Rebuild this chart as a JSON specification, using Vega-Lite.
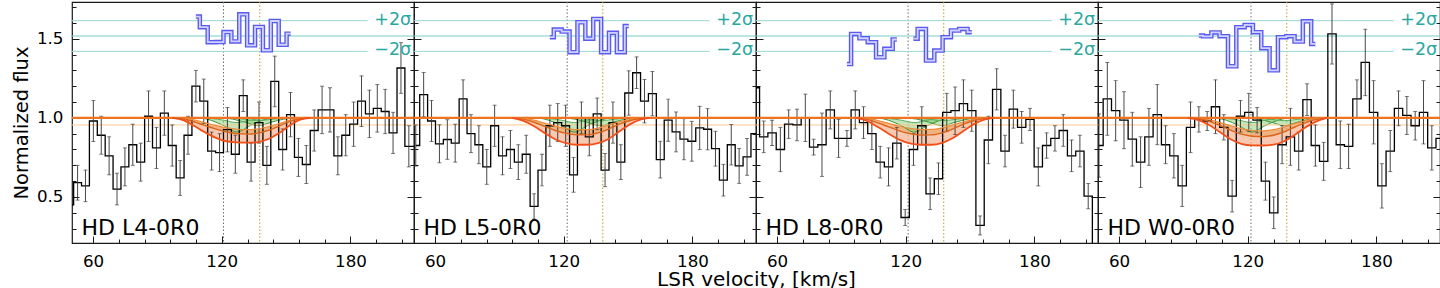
{
"$schema":"https://vega.github.io/schema/vega-lite/v6.json",
"padding":{"left":10,"top":0,"right":0,"bottom":0},
"spacing":0,
"bounds":"flush",
"config":{
 "font":"DejaVu Sans",
 "view":{"stroke":"#1a1a1a","strokeWidth":1.2},
 "axis":{"labelFont":"DejaVu Sans","labelFontSize":16.7,"labelColor":"#000","labelOverlap":false,"tickColor":"#1a1a1a","tickWidth":1,"domain":false,"grid":false,"titleFont":"DejaVu Sans","titleFontWeight":"normal","titleColor":"#000"}
},
"datasets":{
"one":[{}],
"spec":[
{"p":1,"v":49.12,"f":0.45,"e":0.10},{"p":1,"v":52.80,"f":0.59,"e":0.11},{"p":1,"v":56.48,"f":0.57,"e":0.10},{"p":1,"v":60.15,"f":0.98,"e":0.13},{"p":1,"v":63.83,"f":0.89,"e":0.12},{"p":1,"v":67.50,"f":0.76,"e":0.12},{"p":1,"v":71.18,"f":0.55,"e":0.10},{"p":1,"v":74.86,"f":0.69,"e":0.12},{"p":1,"v":78.53,"f":0.83,"e":0.13},{"p":1,"v":82.21,"f":0.72,"e":0.12},{"p":1,"v":85.88,"f":1.01,"e":0.16},{"p":1,"v":89.56,"f":0.81,"e":0.13},{"p":1,"v":93.24,"f":1.03,"e":0.14},{"p":1,"v":96.91,"f":0.825,"e":0.13},{"p":1,"v":100.59,"f":0.62,"e":0.11},{"p":1,"v":104.26,"f":0.89,"e":0.12},{"p":1,"v":107.94,"f":1.20,"e":0.10},{"p":1,"v":111.62,"f":1.105,"e":0.14},{"p":1,"v":115.29,"f":0.79,"e":0.12},{"p":1,"v":118.97,"f":0.78,"e":0.12},{"p":1,"v":122.64,"f":0.925,"e":0.14},{"p":1,"v":126.32,"f":0.77,"e":0.12},{"p":1,"v":130.00,"f":1.14,"e":0.10},{"p":1,"v":133.67,"f":0.72,"e":0.12},{"p":1,"v":137.35,"f":0.97,"e":0.13},{"p":1,"v":141.02,"f":0.70,"e":0.12},{"p":1,"v":144.70,"f":1.23,"e":0.16},{"p":1,"v":148.38,"f":0.80,"e":0.13},{"p":1,"v":152.05,"f":1.02,"e":0.14},{"p":1,"v":155.73,"f":0.75,"e":0.12},{"p":1,"v":159.40,"f":0.705,"e":0.12},{"p":1,"v":163.08,"f":0.92,"e":0.13},{"p":1,"v":166.76,"f":1.05,"e":0.15},{"p":1,"v":170.43,"f":1.05,"e":0.14},{"p":1,"v":174.11,"f":0.76,"e":0.12},{"p":1,"v":177.78,"f":0.89,"e":0.13},{"p":1,"v":181.46,"f":0.96,"e":0.14},{"p":1,"v":185.14,"f":1.105,"e":0.16},{"p":1,"v":188.81,"f":1.025,"e":0.15},{"p":1,"v":192.49,"f":1.06,"e":0.15},{"p":1,"v":196.16,"f":1.04,"e":0.14},{"p":1,"v":199.84,"f":0.905,"e":0.13},{"p":1,"v":203.52,"f":1.315,"e":0.16},{"p":1,"v":207.19,"f":0.82,"e":0.13},{"p":1,"v":210.87,"f":0.82,"e":0.13},
{"p":2,"v":51.02,"f":0.825,"e":0.13},{"p":2,"v":54.70,"f":1.147,"e":0.14},{"p":2,"v":58.38,"f":0.98,"e":0.13},{"p":2,"v":62.05,"f":0.836,"e":0.12},{"p":2,"v":65.73,"f":0.863,"e":0.125},{"p":2,"v":69.40,"f":0.84,"e":0.12},{"p":2,"v":73.08,"f":1.12,"e":0.12},{"p":2,"v":76.76,"f":0.90,"e":0.12},{"p":2,"v":80.43,"f":0.83,"e":0.12},{"p":2,"v":84.11,"f":0.69,"e":0.11},{"p":2,"v":87.78,"f":0.95,"e":0.13},{"p":2,"v":91.46,"f":0.76,"e":0.12},{"p":2,"v":95.14,"f":0.80,"e":0.12},{"p":2,"v":98.81,"f":0.72,"e":0.11},{"p":2,"v":102.49,"f":0.77,"e":0.12},{"p":2,"v":106.16,"f":0.44,"e":0.08},{"p":2,"v":109.84,"f":0.67,"e":0.10},{"p":2,"v":113.52,"f":0.95,"e":0.13},{"p":2,"v":117.19,"f":0.97,"e":0.12},{"p":2,"v":120.87,"f":0.95,"e":0.13},{"p":2,"v":124.54,"f":0.64,"e":0.11},{"p":2,"v":128.22,"f":1.00,"e":0.10},{"p":2,"v":131.90,"f":0.88,"e":0.12},{"p":2,"v":135.57,"f":1.025,"e":0.10},{"p":2,"v":139.25,"f":0.67,"e":0.105},{"p":2,"v":142.92,"f":0.97,"e":0.13},{"p":2,"v":146.60,"f":0.72,"e":0.11},{"p":2,"v":150.28,"f":1.157,"e":0.14},{"p":2,"v":153.95,"f":1.285,"e":0.10},{"p":2,"v":157.63,"f":1.105,"e":0.137},{"p":2,"v":161.30,"f":1.153,"e":0.14},{"p":2,"v":164.98,"f":0.736,"e":0.116},{"p":2,"v":168.66,"f":0.985,"e":0.133},{"p":2,"v":172.33,"f":0.911,"e":0.126},{"p":2,"v":176.01,"f":0.865,"e":0.13},{"p":2,"v":179.68,"f":0.852,"e":0.126},{"p":2,"v":183.36,"f":0.936,"e":0.137},{"p":2,"v":187.04,"f":0.928,"e":0.13},{"p":2,"v":190.71,"f":0.805,"e":0.11},{"p":2,"v":194.39,"f":0.606,"e":0.10},{"p":2,"v":198.06,"f":0.83,"e":0.128},{"p":2,"v":201.74,"f":0.696,"e":0.11},{"p":2,"v":205.42,"f":0.753,"e":0.116},{"p":2,"v":209.09,"f":0.90,"e":0.12},{"p":2,"v":212.77,"f":0.90,"e":0.12},
{"p":3,"v":49.92,"f":1.19,"e":0.12},{"p":3,"v":53.80,"f":0.88,"e":0.10},{"p":3,"v":57.68,"f":0.905,"e":0.08},{"p":3,"v":61.56,"f":0.80,"e":0.14},{"p":3,"v":65.43,"f":0.96,"e":0.09},{"p":3,"v":69.31,"f":0.955,"e":0.10},{"p":3,"v":73.19,"f":1.00,"e":0.15},{"p":3,"v":77.07,"f":0.815,"e":0.05},{"p":3,"v":80.95,"f":0.83,"e":0.20},{"p":3,"v":84.82,"f":1.05,"e":0.12},{"p":3,"v":88.70,"f":0.87,"e":0.12},{"p":3,"v":92.58,"f":0.87,"e":0.05},{"p":3,"v":96.46,"f":1.05,"e":0.12},{"p":3,"v":100.34,"f":0.97,"e":0.10},{"p":3,"v":104.21,"f":0.90,"e":0.10},{"p":3,"v":108.09,"f":0.72,"e":0.10},{"p":3,"v":111.97,"f":0.69,"e":0.12},{"p":3,"v":115.85,"f":0.84,"e":0.10},{"p":3,"v":119.73,"f":0.37,"e":0.05},{"p":3,"v":123.60,"f":0.80,"e":0.10},{"p":3,"v":127.48,"f":0.95,"e":0.12},{"p":3,"v":131.36,"f":0.52,"e":0.10},{"p":3,"v":135.24,"f":0.615,"e":0.10},{"p":3,"v":139.12,"f":1.035,"e":0.12},{"p":3,"v":142.99,"f":1.045,"e":0.15},{"p":3,"v":146.87,"f":1.09,"e":0.15},{"p":3,"v":150.75,"f":1.045,"e":0.13},{"p":3,"v":154.63,"f":0.32,"e":0.06},{"p":3,"v":158.51,"f":0.86,"e":0.15},{"p":3,"v":162.38,"f":1.18,"e":0.13},{"p":3,"v":166.26,"f":0.79,"e":0.10},{"p":3,"v":170.14,"f":1.055,"e":0.12},{"p":3,"v":174.02,"f":0.94,"e":0.10},{"p":3,"v":177.90,"f":0.99,"e":0.07},{"p":3,"v":181.77,"f":0.69,"e":0.12},{"p":3,"v":185.65,"f":0.825,"e":0.08},{"p":3,"v":189.53,"f":0.87,"e":0.08},{"p":3,"v":193.41,"f":0.92,"e":0.10},{"p":3,"v":197.29,"f":0.76,"e":0.10},{"p":3,"v":201.16,"f":0.79,"e":0.10},{"p":3,"v":205.04,"f":0.505,"e":0.08},{"p":3,"v":208.92,"f":0.20,"e":0.10},{"p":3,"v":212.80,"f":0.30,"e":0.10},
{"p":4,"v":50.67,"f":0.825,"e":0.20},{"p":4,"v":54.55,"f":1.12,"e":0.23},{"p":4,"v":58.43,"f":1.045,"e":0.19},{"p":4,"v":62.31,"f":0.985,"e":0.18},{"p":4,"v":66.18,"f":0.865,"e":0.17},{"p":4,"v":70.06,"f":0.72,"e":0.16},{"p":4,"v":73.94,"f":0.88,"e":0.18},{"p":4,"v":77.82,"f":1.02,"e":0.19},{"p":4,"v":81.70,"f":0.83,"e":0.12},{"p":4,"v":85.57,"f":0.76,"e":0.14},{"p":4,"v":89.45,"f":0.57,"e":0.13},{"p":4,"v":93.33,"f":0.94,"e":0.16},{"p":4,"v":97.21,"f":0.99,"e":0.08},{"p":4,"v":101.09,"f":0.98,"e":0.06},{"p":4,"v":104.96,"f":1.07,"e":0.17},{"p":4,"v":108.84,"f":0.94,"e":0.08},{"p":4,"v":112.72,"f":0.505,"e":0.10},{"p":4,"v":116.60,"f":1.01,"e":0.10},{"p":4,"v":120.48,"f":1.035,"e":0.12},{"p":4,"v":124.35,"f":0.985,"e":0.08},{"p":4,"v":128.23,"f":0.60,"e":0.12},{"p":4,"v":132.11,"f":0.40,"e":0.10},{"p":4,"v":135.99,"f":0.83,"e":0.12},{"p":4,"v":139.87,"f":0.88,"e":0.18},{"p":4,"v":143.74,"f":0.79,"e":0.12},{"p":4,"v":147.62,"f":1.115,"e":0.10},{"p":4,"v":151.50,"f":0.825,"e":0.13},{"p":4,"v":155.38,"f":0.725,"e":0.12},{"p":4,"v":159.26,"f":1.53,"e":0.19},{"p":4,"v":163.13,"f":0.83,"e":0.15},{"p":4,"v":167.01,"f":0.82,"e":0.14},{"p":4,"v":170.89,"f":1.12,"e":0.12},{"p":4,"v":174.77,"f":1.35,"e":0.21},{"p":4,"v":178.65,"f":1.035,"e":0.20},{"p":4,"v":182.52,"f":0.57,"e":0.14},{"p":4,"v":186.40,"f":0.79,"e":0.13},{"p":4,"v":190.28,"f":1.06,"e":0.11},{"p":4,"v":194.16,"f":1.015,"e":0.12},{"p":4,"v":198.04,"f":0.95,"e":0.09},{"p":4,"v":201.91,"f":1.035,"e":0.20},{"p":4,"v":205.79,"f":0.81,"e":0.14},{"p":4,"v":209.67,"f":0.87,"e":0.10},{"p":4,"v":213.55,"f":0.87,"e":0.10}
],
"res":[
{"p":1,"s":1,"v":107.94,"r":1.64},{"p":1,"s":1,"v":111.62,"r":1.573},{"p":1,"s":1,"v":115.29,"r":1.478},{"p":1,"s":1,"v":118.97,"r":1.479},{"p":1,"s":1,"v":122.64,"r":1.542},{"p":1,"s":1,"v":126.32,"r":1.483},{"p":1,"s":1,"v":130.00,"r":1.654},{"p":1,"s":1,"v":133.67,"r":1.458},{"p":1,"s":1,"v":137.35,"r":1.574},{"p":1,"s":1,"v":141.02,"r":1.427},{"p":1,"s":1,"v":144.70,"r":1.612},{"p":1,"s":1,"v":148.38,"r":1.462},{"p":1,"s":1,"v":152.05,"r":1.532},
{"p":2,"s":1,"v":113.52,"r":1.51},{"p":2,"s":1,"v":117.19,"r":1.558},{"p":2,"s":1,"v":120.87,"r":1.545},{"p":2,"s":1,"v":124.54,"r":1.415},{"p":2,"s":1,"v":128.22,"r":1.604},{"p":2,"s":1,"v":131.90,"r":1.50},{"p":2,"s":1,"v":135.57,"r":1.625},{"p":2,"s":1,"v":139.25,"r":1.415},{"p":2,"s":1,"v":142.92,"r":1.537},{"p":2,"s":1,"v":146.60,"r":1.415},{"p":2,"s":1,"v":150.28,"r":1.58},
{"p":3,"s":1,"v":92.58,"r":1.34},{"p":3,"s":1,"v":96.46,"r":1.53},{"p":3,"s":1,"v":100.34,"r":1.503},{"p":3,"s":1,"v":104.21,"r":1.478},{"p":3,"s":1,"v":108.09,"r":1.383},{"p":3,"s":1,"v":111.97,"r":1.436},{"p":3,"s":1,"v":115.85,"r":1.495},{"p":3,"s":2,"v":123.60,"r":1.50},{"p":3,"s":2,"v":127.48,"r":1.562},{"p":3,"s":2,"v":131.36,"r":1.362},{"p":3,"s":2,"v":135.24,"r":1.425},{"p":3,"s":2,"v":139.12,"r":1.51},{"p":3,"s":2,"v":142.99,"r":1.552},{"p":3,"s":2,"v":146.87,"r":1.562},{"p":3,"s":2,"v":150.75,"r":1.541},
{"p":4,"s":1,"v":97.21,"r":1.52},{"p":4,"s":1,"v":101.09,"r":1.515},{"p":4,"s":1,"v":104.96,"r":1.54},{"p":4,"s":1,"v":108.84,"r":1.516},{"p":4,"s":1,"v":112.72,"r":1.326},{"p":4,"s":1,"v":116.60,"r":1.573},{"p":4,"s":1,"v":120.48,"r":1.587},{"p":4,"s":1,"v":124.35,"r":1.541},{"p":4,"s":1,"v":128.23,"r":1.44},{"p":4,"s":1,"v":132.11,"r":1.30},{"p":4,"s":1,"v":135.99,"r":1.51},{"p":4,"s":1,"v":139.87,"r":1.516},{"p":4,"s":1,"v":143.74,"r":1.482},{"p":4,"s":1,"v":147.62,"r":1.61},{"p":4,"s":1,"v":151.50,"r":1.467}
],
"model":[
{"p":1,"v":97,"hi":1,"md":1,"lo":1},{"p":1,"v":102,"hi":0.997,"md":0.993,"lo":0.985},{"p":1,"v":107,"hi":0.987,"md":0.975,"lo":0.95},{"p":1,"v":112,"hi":0.97,"md":0.952,"lo":0.91},{"p":1,"v":117,"hi":0.952,"md":0.93,"lo":0.875},{"p":1,"v":122,"hi":0.938,"md":0.912,"lo":0.852},{"p":1,"v":127,"hi":0.928,"md":0.9,"lo":0.845},{"p":1,"v":132,"hi":0.925,"md":0.897,"lo":0.843},{"p":1,"v":137,"hi":0.93,"md":0.903,"lo":0.847},{"p":1,"v":142,"hi":0.945,"md":0.922,"lo":0.868},{"p":1,"v":147,"hi":0.965,"md":0.95,"lo":0.905},{"p":1,"v":152,"hi":0.985,"md":0.978,"lo":0.955},{"p":1,"v":157,"hi":0.997,"md":0.995,"lo":0.99},{"p":1,"v":161,"hi":1,"md":1,"lo":1},
{"p":2,"v":96,"hi":1,"md":1,"lo":1},{"p":2,"v":101,"hi":0.996,"md":0.992,"lo":0.982},{"p":2,"v":106,"hi":0.985,"md":0.972,"lo":0.948},{"p":2,"v":111,"hi":0.967,"md":0.947,"lo":0.905},{"p":2,"v":116,"hi":0.948,"md":0.92,"lo":0.865},{"p":2,"v":121,"hi":0.933,"md":0.902,"lo":0.84},{"p":2,"v":126,"hi":0.925,"md":0.893,"lo":0.83},{"p":2,"v":131,"hi":0.925,"md":0.892,"lo":0.83},{"p":2,"v":136,"hi":0.935,"md":0.905,"lo":0.84},{"p":2,"v":141,"hi":0.955,"md":0.93,"lo":0.868},{"p":2,"v":146,"hi":0.975,"md":0.96,"lo":0.915},{"p":2,"v":151,"hi":0.99,"md":0.983,"lo":0.96},{"p":2,"v":156,"hi":0.998,"md":0.996,"lo":0.99},{"p":2,"v":160,"hi":1,"md":1,"lo":1},
{"p":3,"v":97,"hi":1,"md":1,"lo":1},{"p":3,"v":102,"hi":0.996,"md":0.99,"lo":0.98},{"p":3,"v":107,"hi":0.983,"md":0.968,"lo":0.942},{"p":3,"v":112,"hi":0.965,"md":0.943,"lo":0.9},{"p":3,"v":117,"hi":0.947,"md":0.918,"lo":0.862},{"p":3,"v":122,"hi":0.933,"md":0.9,"lo":0.838},{"p":3,"v":127,"hi":0.926,"md":0.891,"lo":0.83},{"p":3,"v":132,"hi":0.927,"md":0.892,"lo":0.83},{"p":3,"v":137,"hi":0.937,"md":0.905,"lo":0.842},{"p":3,"v":142,"hi":0.955,"md":0.93,"lo":0.872},{"p":3,"v":147,"hi":0.975,"md":0.96,"lo":0.918},{"p":3,"v":152,"hi":0.99,"md":0.983,"lo":0.962},{"p":3,"v":157,"hi":0.998,"md":0.996,"lo":0.99},{"p":3,"v":161,"hi":1,"md":1,"lo":1},
{"p":4,"v":92,"hi":1,"md":1,"lo":1},{"p":4,"v":97,"hi":0.997,"md":0.994,"lo":0.986},{"p":4,"v":102,"hi":0.988,"md":0.978,"lo":0.955},{"p":4,"v":107,"hi":0.97,"md":0.952,"lo":0.91},{"p":4,"v":112,"hi":0.95,"md":0.922,"lo":0.865},{"p":4,"v":117,"hi":0.932,"md":0.897,"lo":0.836},{"p":4,"v":122,"hi":0.92,"md":0.884,"lo":0.826},{"p":4,"v":127,"hi":0.917,"md":0.881,"lo":0.825},{"p":4,"v":132,"hi":0.925,"md":0.89,"lo":0.83},{"p":4,"v":137,"hi":0.942,"md":0.912,"lo":0.852},{"p":4,"v":142,"hi":0.963,"md":0.942,"lo":0.893},{"p":4,"v":147,"hi":0.982,"md":0.97,"lo":0.94},{"p":4,"v":152,"hi":0.995,"md":0.99,"lo":0.978},{"p":4,"v":157,"hi":1,"md":1,"lo":1}
],
"comp":[
{"p":1,"c":"A","v":110,"hi":1,"lo":1},{"p":1,"c":"A","v":115,"hi":0.996,"lo":0.985},{"p":1,"c":"A","v":121,"hi":0.985,"lo":0.95},{"p":1,"c":"A","v":127,"hi":0.97,"lo":0.91},{"p":1,"c":"A","v":133,"hi":0.985,"lo":0.95},{"p":1,"c":"A","v":139,"hi":0.996,"lo":0.985},{"p":1,"c":"A","v":144,"hi":1,"lo":1},
{"p":1,"c":"B","v":120,"hi":1,"lo":1},{"p":1,"c":"B","v":125,"hi":0.998,"lo":0.992},{"p":1,"c":"B","v":131,"hi":0.99,"lo":0.972},{"p":1,"c":"B","v":137,"hi":0.982,"lo":0.95},{"p":1,"c":"B","v":143,"hi":0.99,"lo":0.972},{"p":1,"c":"B","v":149,"hi":0.998,"lo":0.992},{"p":1,"c":"B","v":154,"hi":1,"lo":1},
{"p":2,"c":"A","v":108,"hi":1,"lo":1},{"p":2,"c":"A","v":113,"hi":0.996,"lo":0.985},{"p":2,"c":"A","v":119,"hi":0.985,"lo":0.95},{"p":2,"c":"A","v":125,"hi":0.97,"lo":0.91},{"p":2,"c":"A","v":131,"hi":0.985,"lo":0.95},{"p":2,"c":"A","v":137,"hi":0.996,"lo":0.985},{"p":2,"c":"A","v":142,"hi":1,"lo":1},
{"p":2,"c":"B","v":120,"hi":1,"lo":1},{"p":2,"c":"B","v":125,"hi":0.998,"lo":0.992},{"p":2,"c":"B","v":131,"hi":0.99,"lo":0.972},{"p":2,"c":"B","v":137,"hi":0.982,"lo":0.95},{"p":2,"c":"B","v":143,"hi":0.99,"lo":0.972},{"p":2,"c":"B","v":149,"hi":0.998,"lo":0.992},{"p":2,"c":"B","v":154,"hi":1,"lo":1},
{"p":3,"c":"A","v":107,"hi":1,"lo":1},{"p":3,"c":"A","v":112,"hi":0.996,"lo":0.985},{"p":3,"c":"A","v":118,"hi":0.985,"lo":0.95},{"p":3,"c":"A","v":124,"hi":0.97,"lo":0.91},{"p":3,"c":"A","v":130,"hi":0.985,"lo":0.95},{"p":3,"c":"A","v":136,"hi":0.996,"lo":0.985},{"p":3,"c":"A","v":141,"hi":1,"lo":1},
{"p":3,"c":"B","v":120,"hi":1,"lo":1},{"p":3,"c":"B","v":125,"hi":0.998,"lo":0.992},{"p":3,"c":"B","v":131,"hi":0.99,"lo":0.972},{"p":3,"c":"B","v":137,"hi":0.982,"lo":0.95},{"p":3,"c":"B","v":143,"hi":0.99,"lo":0.972},{"p":3,"c":"B","v":149,"hi":0.998,"lo":0.992},{"p":3,"c":"B","v":154,"hi":1,"lo":1},
{"p":4,"c":"A","v":105,"hi":1,"lo":1},{"p":4,"c":"A","v":110,"hi":0.996,"lo":0.985},{"p":4,"c":"A","v":116,"hi":0.985,"lo":0.95},{"p":4,"c":"A","v":122,"hi":0.97,"lo":0.91},{"p":4,"c":"A","v":128,"hi":0.985,"lo":0.95},{"p":4,"c":"A","v":134,"hi":0.996,"lo":0.985},{"p":4,"c":"A","v":139,"hi":1,"lo":1},
{"p":4,"c":"B","v":120,"hi":1,"lo":1},{"p":4,"c":"B","v":125,"hi":0.998,"lo":0.992},{"p":4,"c":"B","v":131,"hi":0.99,"lo":0.972},{"p":4,"c":"B","v":137,"hi":0.982,"lo":0.95},{"p":4,"c":"B","v":143,"hi":0.99,"lo":0.972},{"p":4,"c":"B","v":149,"hi":0.998,"lo":0.992},{"p":4,"c":"B","v":154,"hi":1,"lo":1}
]
},
"hconcat":[
{"width":342,"height":241,"resolve":{"axis":{"x":"independent","y":"independent"}},"layer":[
 {"data":{"values":[{"x":120.8,"k":"a"},{"x":137.7,"k":"b"}]},"mark":{"type":"rule","strokeWidth":1,"strokeDash":[1.5,2]},"encoding":{"x":{"field":"x","type":"quantitative","scale":{"domain":[50.2,209.6],"nice":false,"zero":false},"axis":{"orient":"bottom","values":[72,84,96,108,132,144,156,168,192,204],"labels":false,"title":null,"tickSize":-4}},"color":{"field":"k","type":"nominal","scale":{"domain":["a","b"],"range":["#707070","#b8a030"]},"legend":null}}},
 {"data":{"values":[{"y":1.517}]},"mark":{"type":"rule","color":"#7acdc4","strokeWidth":1.2},"encoding":{"y":{"field":"y","type":"quantitative","scale":{"domain":[0.209,1.732],"nice":false,"zero":false},"axis":{"orient":"left","values":[0.3,0.4,0.6,0.7,0.8,0.9,1.1,1.2,1.3,1.4,1.6,1.7],"labels":false,"title":null,"tickSize":-4}}}},
 {"data":{"values":[{"y":1.42},{"y":1.614}]},"mark":{"type":"rule","color":"#98d8d0","strokeWidth":1},"encoding":{"x":{"datum":50.2,"axis":null},"x2":{"datum":188},"y":{"field":"y","type":"quantitative","scale":{"domain":[0.209,1.732],"nice":false,"zero":false},"axis":{"orient":"right","values":[0.3,0.4,0.5,0.6,0.7,0.8,0.9,1.0,1.1,1.2,1.3,1.4,1.5,1.6,1.7],"labels":false,"title":null,"tickSize":{"condition":{"test":"abs(datum.value*2-round(datum.value*2))<0.001","value":-7},"value":-4}}}}},
 {"layer":[
  {"data":{"name":"model"},"transform":[{"filter":"datum.p==1"}],"mark":{"type":"area","interpolate":"monotone","color":"#eb9a55","opacity":0.75},"encoding":{"x":{"field":"v","type":"quantitative","scale":{"domain":[50.2,209.6],"nice":false,"zero":false},"axis":{"orient":"bottom","values":[60,120,180],"tickSize":-7,"labelBaseline":"alphabetic","labelPadding":30,"labelFlush":false,"labelOverlap":false,"title":null}},"y":{"field":"md","type":"quantitative","scale":{"domain":[0.209,1.732],"nice":false,"zero":false},"axis":{"orient":"left","values":[0.5,1.0,1.5],"format":".1f","tickSize":-7,"labelPadding":16,"labelBaseline":"middle","labelOverlap":false,"title":"Normalized flux","titleFontSize":19.5,"titlePadding":5}},"y2":{"field":"hi"}}},
  {"data":{"name":"model"},"transform":[{"filter":"datum.p==1"}],"mark":{"type":"area","interpolate":"monotone","color":"#f7b08e","opacity":0.7},"encoding":{"x":{"field":"v","type":"quantitative"},"y":{"field":"lo","type":"quantitative"},"y2":{"field":"md"}}},
  {"data":{"name":"comp"},"transform":[{"filter":"datum.p==1"}],"mark":{"type":"area","interpolate":"monotone","color":"#8fcf7f","opacity":0.55},"encoding":{"x":{"field":"v","type":"quantitative"},"y":{"field":"lo","type":"quantitative"},"y2":{"field":"hi"},"detail":{"field":"c"}}},
  {"data":{"name":"comp"},"transform":[{"filter":"datum.p==1"}],"mark":{"type":"line","interpolate":"monotone","color":"#3a963a","strokeWidth":1},"encoding":{"x":{"field":"v","type":"quantitative"},"y":{"field":"lo","type":"quantitative"},"detail":{"field":"c"}}},
  {"data":{"name":"comp"},"transform":[{"filter":"datum.p==1"}],"mark":{"type":"line","interpolate":"monotone","color":"#5aae5a","strokeWidth":1},"encoding":{"x":{"field":"v","type":"quantitative"},"y":{"field":"hi","type":"quantitative"},"detail":{"field":"c"}}},
  {"data":{"name":"one"},"mark":{"type":"rule","color":"#ffc890","strokeWidth":1},"encoding":{"y":{"datum":0.955}}},
  {"data":{"name":"spec"},"transform":[{"filter":"datum.p==1"}],"mark":{"type":"line","interpolate":"step","color":"#000","strokeWidth":1.3,"clip":true},"encoding":{"x":{"field":"v","type":"quantitative"},"y":{"field":"f","type":"quantitative"}}},
  {"data":{"name":"spec"},"transform":[{"filter":"datum.p==1 && datum.v>50.4 && datum.v<208.2"}],"mark":{"type":"errorbar","color":"#333","thickness":0.9,"ticks":{"size":4}},"encoding":{"x":{"field":"v","type":"quantitative"},"y":{"field":"f","type":"quantitative","title":"Normalized flux"},"yError":{"field":"e"}}},
  {"data":{"name":"one"},"mark":{"type":"rule","color":"#ee7322","strokeWidth":2.2},"encoding":{"y":{"datum":1}}},
  {"data":{"name":"model"},"transform":[{"filter":"datum.p==1"}],"mark":{"type":"line","interpolate":"monotone","color":"#ee8a3a","strokeWidth":1.2},"encoding":{"x":{"field":"v","type":"quantitative"},"y":{"field":"hi","type":"quantitative"}}},
  {"data":{"name":"model"},"transform":[{"filter":"datum.p==1"}],"mark":{"type":"line","interpolate":"monotone","color":"#d8641e","strokeWidth":1.4},"encoding":{"x":{"field":"v","type":"quantitative"},"y":{"field":"md","type":"quantitative"}}},
  {"data":{"name":"model"},"transform":[{"filter":"datum.p==1"}],"mark":{"type":"line","interpolate":"monotone","color":"#f2501a","strokeWidth":1.8},"encoding":{"x":{"field":"v","type":"quantitative"},"y":{"field":"lo","type":"quantitative"}}},
  {"data":{"name":"res"},"transform":[{"filter":"datum.p==1"}],"mark":{"type":"line","interpolate":"step","color":"#5a5af0","strokeWidth":4.5},"encoding":{"x":{"field":"v","type":"quantitative"},"y":{"field":"r","type":"quantitative"},"detail":{"field":"s"}}},
  {"data":{"name":"res"},"transform":[{"filter":"datum.p==1"}],"mark":{"type":"line","interpolate":"step","color":"#cfd2ff","strokeWidth":1.8},"encoding":{"x":{"field":"v","type":"quantitative"},"y":{"field":"r","type":"quantitative"},"detail":{"field":"s"}}},
  {"data":{"name":"one"},"mark":{"type":"text","text":"+2σ","align":"right","baseline":"middle","fontSize":17.5,"color":"#2aa8a0"},"encoding":{"x":{"datum":208.3},"y":{"datum":1.62}}},
  {"data":{"name":"one"},"mark":{"type":"text","text":"−2σ","align":"right","baseline":"middle","fontSize":17.5,"color":"#2aa8a0"},"encoding":{"x":{"datum":208.3},"y":{"datum":1.43}}},
  {"data":{"name":"one"},"mark":{"type":"text","text":"HD L4-0R0","align":"left","baseline":"alphabetic","fontSize":22,"color":"#000"},"encoding":{"x":{"datum":54.6},"y":{"datum":0.258}}}
 ]}
]},
{"width":342,"height":241,"resolve":{"axis":{"x":"independent","y":"independent"}},"layer":[
 {"data":{"values":[{"x":121.6,"k":"a"},{"x":138.2,"k":"b"}]},"mark":{"type":"rule","strokeWidth":1,"strokeDash":[1.5,2]},"encoding":{"x":{"field":"x","type":"quantitative","scale":{"domain":[50.2,209.6],"nice":false,"zero":false},"axis":{"orient":"bottom","values":[72,84,96,108,132,144,156,168,192,204],"labels":false,"title":null,"tickSize":-4}},"color":{"field":"k","type":"nominal","scale":{"domain":["a","b"],"range":["#707070","#b8a030"]},"legend":null}}},
 {"data":{"values":[{"y":1.517}]},"mark":{"type":"rule","color":"#7acdc4","strokeWidth":1.2},"encoding":{"y":{"field":"y","type":"quantitative","scale":{"domain":[0.209,1.732],"nice":false,"zero":false},"axis":{"orient":"left","values":[0.3,0.4,0.6,0.7,0.8,0.9,1.1,1.2,1.3,1.4,1.6,1.7],"labels":false,"title":null,"tickSize":-4}}}},
 {"data":{"values":[{"y":1.42},{"y":1.614}]},"mark":{"type":"rule","color":"#98d8d0","strokeWidth":1},"encoding":{"x":{"datum":50.2,"axis":null},"x2":{"datum":188},"y":{"field":"y","type":"quantitative","scale":{"domain":[0.209,1.732],"nice":false,"zero":false},"axis":{"orient":"right","values":[0.3,0.4,0.5,0.6,0.7,0.8,0.9,1.0,1.1,1.2,1.3,1.4,1.5,1.6,1.7],"labels":false,"title":null,"tickSize":{"condition":{"test":"abs(datum.value*2-round(datum.value*2))<0.001","value":-7},"value":-4}}}}},
 {"layer":[
  {"data":{"name":"model"},"transform":[{"filter":"datum.p==2"}],"mark":{"type":"area","interpolate":"monotone","color":"#eb9a55","opacity":0.75},"encoding":{"x":{"field":"v","type":"quantitative","scale":{"domain":[50.2,209.6],"nice":false,"zero":false},"axis":{"orient":"bottom","values":[60,120,180],"tickSize":-7,"labelBaseline":"alphabetic","labelPadding":30,"labelFlush":false,"labelOverlap":false,"title":"LSR velocity, [km/s]","titleFontSize":20,"titleX":342,"titleY":42,"titleBaseline":"alphabetic","titleAlign":"center"}},"y":{"field":"md","type":"quantitative","scale":{"domain":[0.209,1.732],"nice":false,"zero":false},"axis":{"orient":"left","values":[0.5,1.0,1.5],"labels":false,"tickSize":-7,"title":null}},"y2":{"field":"hi"}}},
  {"data":{"name":"model"},"transform":[{"filter":"datum.p==2"}],"mark":{"type":"area","interpolate":"monotone","color":"#f7b08e","opacity":0.7},"encoding":{"x":{"field":"v","type":"quantitative"},"y":{"field":"lo","type":"quantitative"},"y2":{"field":"md"}}},
  {"data":{"name":"comp"},"transform":[{"filter":"datum.p==2"}],"mark":{"type":"area","interpolate":"monotone","color":"#8fcf7f","opacity":0.55},"encoding":{"x":{"field":"v","type":"quantitative"},"y":{"field":"lo","type":"quantitative"},"y2":{"field":"hi"},"detail":{"field":"c"}}},
  {"data":{"name":"comp"},"transform":[{"filter":"datum.p==2"}],"mark":{"type":"line","interpolate":"monotone","color":"#3a963a","strokeWidth":1},"encoding":{"x":{"field":"v","type":"quantitative"},"y":{"field":"lo","type":"quantitative"},"detail":{"field":"c"}}},
  {"data":{"name":"comp"},"transform":[{"filter":"datum.p==2"}],"mark":{"type":"line","interpolate":"monotone","color":"#5aae5a","strokeWidth":1},"encoding":{"x":{"field":"v","type":"quantitative"},"y":{"field":"hi","type":"quantitative"},"detail":{"field":"c"}}},
  {"data":{"name":"one"},"mark":{"type":"rule","color":"#ffc890","strokeWidth":1},"encoding":{"y":{"datum":0.955}}},
  {"data":{"name":"spec"},"transform":[{"filter":"datum.p==2"}],"mark":{"type":"line","interpolate":"step","color":"#000","strokeWidth":1.3,"clip":true},"encoding":{"x":{"field":"v","type":"quantitative"},"y":{"field":"f","type":"quantitative"}}},
  {"data":{"name":"spec"},"transform":[{"filter":"datum.p==2 && datum.v>50.4 && datum.v<208.2"}],"mark":{"type":"errorbar","color":"#333","thickness":0.9,"ticks":{"size":4}},"encoding":{"x":{"field":"v","type":"quantitative"},"y":{"field":"f","type":"quantitative"},"yError":{"field":"e"}}},
  {"data":{"name":"one"},"mark":{"type":"rule","color":"#ee7322","strokeWidth":2.2},"encoding":{"y":{"datum":1}}},
  {"data":{"name":"model"},"transform":[{"filter":"datum.p==2"}],"mark":{"type":"line","interpolate":"monotone","color":"#ee8a3a","strokeWidth":1.2},"encoding":{"x":{"field":"v","type":"quantitative"},"y":{"field":"hi","type":"quantitative"}}},
  {"data":{"name":"model"},"transform":[{"filter":"datum.p==2"}],"mark":{"type":"line","interpolate":"monotone","color":"#d8641e","strokeWidth":1.4},"encoding":{"x":{"field":"v","type":"quantitative"},"y":{"field":"md","type":"quantitative"}}},
  {"data":{"name":"model"},"transform":[{"filter":"datum.p==2"}],"mark":{"type":"line","interpolate":"monotone","color":"#f2501a","strokeWidth":1.8},"encoding":{"x":{"field":"v","type":"quantitative"},"y":{"field":"lo","type":"quantitative"}}},
  {"data":{"name":"res"},"transform":[{"filter":"datum.p==2"}],"mark":{"type":"line","interpolate":"step","color":"#5a5af0","strokeWidth":4.5},"encoding":{"x":{"field":"v","type":"quantitative"},"y":{"field":"r","type":"quantitative"},"detail":{"field":"s"}}},
  {"data":{"name":"res"},"transform":[{"filter":"datum.p==2"}],"mark":{"type":"line","interpolate":"step","color":"#cfd2ff","strokeWidth":1.8},"encoding":{"x":{"field":"v","type":"quantitative"},"y":{"field":"r","type":"quantitative"},"detail":{"field":"s"}}},
  {"data":{"name":"one"},"mark":{"type":"text","text":"+2σ","align":"right","baseline":"middle","fontSize":17.5,"color":"#2aa8a0"},"encoding":{"x":{"datum":208.3},"y":{"datum":1.62}}},
  {"data":{"name":"one"},"mark":{"type":"text","text":"−2σ","align":"right","baseline":"middle","fontSize":17.5,"color":"#2aa8a0"},"encoding":{"x":{"datum":208.3},"y":{"datum":1.43}}},
  {"data":{"name":"one"},"mark":{"type":"text","text":"HD L5-0R0","align":"left","baseline":"alphabetic","fontSize":22,"color":"#000"},"encoding":{"x":{"datum":54.6},"y":{"datum":0.258}}}
 ]}
]},
{"width":342,"height":241,"resolve":{"axis":{"x":"independent","y":"independent"}},"layer":[
 {"data":{"values":[{"x":121.1,"k":"a"},{"x":137.7,"k":"b"}]},"mark":{"type":"rule","strokeWidth":1,"strokeDash":[1.5,2]},"encoding":{"x":{"field":"x","type":"quantitative","scale":{"domain":[50.2,209.6],"nice":false,"zero":false},"axis":{"orient":"bottom","values":[72,84,96,108,132,144,156,168,192,204],"labels":false,"title":null,"tickSize":-4}},"color":{"field":"k","type":"nominal","scale":{"domain":["a","b"],"range":["#707070","#b8a030"]},"legend":null}}},
 {"data":{"values":[{"y":1.517}]},"mark":{"type":"rule","color":"#7acdc4","strokeWidth":1.2},"encoding":{"y":{"field":"y","type":"quantitative","scale":{"domain":[0.209,1.732],"nice":false,"zero":false},"axis":{"orient":"left","values":[0.3,0.4,0.6,0.7,0.8,0.9,1.1,1.2,1.3,1.4,1.6,1.7],"labels":false,"title":null,"tickSize":-4}}}},
 {"data":{"values":[{"y":1.42},{"y":1.614}]},"mark":{"type":"rule","color":"#98d8d0","strokeWidth":1},"encoding":{"x":{"datum":50.2,"axis":null},"x2":{"datum":188},"y":{"field":"y","type":"quantitative","scale":{"domain":[0.209,1.732],"nice":false,"zero":false},"axis":{"orient":"right","values":[0.3,0.4,0.5,0.6,0.7,0.8,0.9,1.0,1.1,1.2,1.3,1.4,1.5,1.6,1.7],"labels":false,"title":null,"tickSize":{"condition":{"test":"abs(datum.value*2-round(datum.value*2))<0.001","value":-7},"value":-4}}}}},
 {"layer":[
  {"data":{"name":"model"},"transform":[{"filter":"datum.p==3"}],"mark":{"type":"area","interpolate":"monotone","color":"#eb9a55","opacity":0.75},"encoding":{"x":{"field":"v","type":"quantitative","scale":{"domain":[50.2,209.6],"nice":false,"zero":false},"axis":{"orient":"bottom","values":[60,120,180],"tickSize":-7,"labelBaseline":"alphabetic","labelPadding":30,"labelFlush":false,"labelOverlap":false,"title":null}},"y":{"field":"md","type":"quantitative","scale":{"domain":[0.209,1.732],"nice":false,"zero":false},"axis":{"orient":"left","values":[0.5,1.0,1.5],"labels":false,"tickSize":-7,"title":null}},"y2":{"field":"hi"}}},
  {"data":{"name":"model"},"transform":[{"filter":"datum.p==3"}],"mark":{"type":"area","interpolate":"monotone","color":"#f7b08e","opacity":0.7},"encoding":{"x":{"field":"v","type":"quantitative"},"y":{"field":"lo","type":"quantitative"},"y2":{"field":"md"}}},
  {"data":{"name":"comp"},"transform":[{"filter":"datum.p==3"}],"mark":{"type":"area","interpolate":"monotone","color":"#8fcf7f","opacity":0.55},"encoding":{"x":{"field":"v","type":"quantitative"},"y":{"field":"lo","type":"quantitative"},"y2":{"field":"hi"},"detail":{"field":"c"}}},
  {"data":{"name":"comp"},"transform":[{"filter":"datum.p==3"}],"mark":{"type":"line","interpolate":"monotone","color":"#3a963a","strokeWidth":1},"encoding":{"x":{"field":"v","type":"quantitative"},"y":{"field":"lo","type":"quantitative"},"detail":{"field":"c"}}},
  {"data":{"name":"comp"},"transform":[{"filter":"datum.p==3"}],"mark":{"type":"line","interpolate":"monotone","color":"#5aae5a","strokeWidth":1},"encoding":{"x":{"field":"v","type":"quantitative"},"y":{"field":"hi","type":"quantitative"},"detail":{"field":"c"}}},
  {"data":{"name":"one"},"mark":{"type":"rule","color":"#ffc890","strokeWidth":1},"encoding":{"y":{"datum":0.955}}},
  {"data":{"name":"spec"},"transform":[{"filter":"datum.p==3"}],"mark":{"type":"line","interpolate":"step","color":"#000","strokeWidth":1.3,"clip":true},"encoding":{"x":{"field":"v","type":"quantitative"},"y":{"field":"f","type":"quantitative"}}},
  {"data":{"name":"spec"},"transform":[{"filter":"datum.p==3 && datum.v>50.4 && datum.v<208.2"}],"mark":{"type":"errorbar","color":"#333","thickness":0.9,"ticks":{"size":4}},"encoding":{"x":{"field":"v","type":"quantitative"},"y":{"field":"f","type":"quantitative"},"yError":{"field":"e"}}},
  {"data":{"name":"one"},"mark":{"type":"rule","color":"#ee7322","strokeWidth":2.2},"encoding":{"y":{"datum":1}}},
  {"data":{"name":"model"},"transform":[{"filter":"datum.p==3"}],"mark":{"type":"line","interpolate":"monotone","color":"#ee8a3a","strokeWidth":1.2},"encoding":{"x":{"field":"v","type":"quantitative"},"y":{"field":"hi","type":"quantitative"}}},
  {"data":{"name":"model"},"transform":[{"filter":"datum.p==3"}],"mark":{"type":"line","interpolate":"monotone","color":"#d8641e","strokeWidth":1.4},"encoding":{"x":{"field":"v","type":"quantitative"},"y":{"field":"md","type":"quantitative"}}},
  {"data":{"name":"model"},"transform":[{"filter":"datum.p==3"}],"mark":{"type":"line","interpolate":"monotone","color":"#f2501a","strokeWidth":1.8},"encoding":{"x":{"field":"v","type":"quantitative"},"y":{"field":"lo","type":"quantitative"}}},
  {"data":{"name":"res"},"transform":[{"filter":"datum.p==3"}],"mark":{"type":"line","interpolate":"step","color":"#5a5af0","strokeWidth":4.5},"encoding":{"x":{"field":"v","type":"quantitative"},"y":{"field":"r","type":"quantitative"},"detail":{"field":"s"}}},
  {"data":{"name":"res"},"transform":[{"filter":"datum.p==3"}],"mark":{"type":"line","interpolate":"step","color":"#cfd2ff","strokeWidth":1.8},"encoding":{"x":{"field":"v","type":"quantitative"},"y":{"field":"r","type":"quantitative"},"detail":{"field":"s"}}},
  {"data":{"name":"one"},"mark":{"type":"text","text":"+2σ","align":"right","baseline":"middle","fontSize":17.5,"color":"#2aa8a0"},"encoding":{"x":{"datum":208.3},"y":{"datum":1.62}}},
  {"data":{"name":"one"},"mark":{"type":"text","text":"−2σ","align":"right","baseline":"middle","fontSize":17.5,"color":"#2aa8a0"},"encoding":{"x":{"datum":208.3},"y":{"datum":1.43}}},
  {"data":{"name":"one"},"mark":{"type":"text","text":"HD L8-0R0","align":"left","baseline":"alphabetic","fontSize":22,"color":"#000"},"encoding":{"x":{"datum":54.6},"y":{"datum":0.258}}}
 ]}
]},
{"width":342,"height":241,"resolve":{"axis":{"x":"independent","y":"independent"}},"layer":[
 {"data":{"values":[{"x":121.5,"k":"a"},{"x":138.2,"k":"b"}]},"mark":{"type":"rule","strokeWidth":1,"strokeDash":[1.5,2]},"encoding":{"x":{"field":"x","type":"quantitative","scale":{"domain":[50.2,209.6],"nice":false,"zero":false},"axis":{"orient":"bottom","values":[72,84,96,108,132,144,156,168,192,204],"labels":false,"title":null,"tickSize":-4}},"color":{"field":"k","type":"nominal","scale":{"domain":["a","b"],"range":["#4f9a4f","#b8a030"]},"legend":null}}},
 {"data":{"values":[{"y":1.517}]},"mark":{"type":"rule","color":"#7acdc4","strokeWidth":1.2},"encoding":{"y":{"field":"y","type":"quantitative","scale":{"domain":[0.209,1.732],"nice":false,"zero":false},"axis":{"orient":"left","values":[0.3,0.4,0.6,0.7,0.8,0.9,1.1,1.2,1.3,1.4,1.6,1.7],"labels":false,"title":null,"tickSize":-4}}}},
 {"data":{"values":[{"y":1.42},{"y":1.614}]},"mark":{"type":"rule","color":"#98d8d0","strokeWidth":1},"encoding":{"x":{"datum":50.2,"axis":null},"x2":{"datum":188},"y":{"field":"y","type":"quantitative","scale":{"domain":[0.209,1.732],"nice":false,"zero":false},"axis":{"orient":"right","values":[0.3,0.4,0.5,0.6,0.7,0.8,0.9,1.0,1.1,1.2,1.3,1.4,1.5,1.6,1.7],"labels":false,"title":null,"tickSize":{"condition":{"test":"abs(datum.value*2-round(datum.value*2))<0.001","value":-7},"value":-4}}}}},
 {"layer":[
  {"data":{"name":"model"},"transform":[{"filter":"datum.p==4"}],"mark":{"type":"area","interpolate":"monotone","color":"#eb9a55","opacity":0.75},"encoding":{"x":{"field":"v","type":"quantitative","scale":{"domain":[50.2,209.6],"nice":false,"zero":false},"axis":{"orient":"bottom","values":[60,120,180],"tickSize":-7,"labelBaseline":"alphabetic","labelPadding":30,"labelFlush":false,"labelOverlap":false,"title":null}},"y":{"field":"md","type":"quantitative","scale":{"domain":[0.209,1.732],"nice":false,"zero":false},"axis":{"orient":"left","values":[0.5,1.0,1.5],"labels":false,"tickSize":-7,"title":null}},"y2":{"field":"hi"}}},
  {"data":{"name":"model"},"transform":[{"filter":"datum.p==4"}],"mark":{"type":"area","interpolate":"monotone","color":"#f7b08e","opacity":0.7},"encoding":{"x":{"field":"v","type":"quantitative"},"y":{"field":"lo","type":"quantitative"},"y2":{"field":"md"}}},
  {"data":{"name":"comp"},"transform":[{"filter":"datum.p==4"}],"mark":{"type":"area","interpolate":"monotone","color":"#8fcf7f","opacity":0.55},"encoding":{"x":{"field":"v","type":"quantitative"},"y":{"field":"lo","type":"quantitative"},"y2":{"field":"hi"},"detail":{"field":"c"}}},
  {"data":{"name":"comp"},"transform":[{"filter":"datum.p==4"}],"mark":{"type":"line","interpolate":"monotone","color":"#3a963a","strokeWidth":1},"encoding":{"x":{"field":"v","type":"quantitative"},"y":{"field":"lo","type":"quantitative"},"detail":{"field":"c"}}},
  {"data":{"name":"comp"},"transform":[{"filter":"datum.p==4"}],"mark":{"type":"line","interpolate":"monotone","color":"#5aae5a","strokeWidth":1},"encoding":{"x":{"field":"v","type":"quantitative"},"y":{"field":"hi","type":"quantitative"},"detail":{"field":"c"}}},
  {"data":{"name":"one"},"mark":{"type":"rule","color":"#ffc890","strokeWidth":1},"encoding":{"y":{"datum":0.955}}},
  {"data":{"name":"spec"},"transform":[{"filter":"datum.p==4"}],"mark":{"type":"line","interpolate":"step","color":"#000","strokeWidth":1.3,"clip":true},"encoding":{"x":{"field":"v","type":"quantitative"},"y":{"field":"f","type":"quantitative"}}},
  {"data":{"name":"spec"},"transform":[{"filter":"datum.p==4 && datum.v>50.4 && datum.v<208.2"}],"mark":{"type":"errorbar","color":"#333","thickness":0.9,"ticks":{"size":4}},"encoding":{"x":{"field":"v","type":"quantitative"},"y":{"field":"f","type":"quantitative"},"yError":{"field":"e"}}},
  {"data":{"name":"one"},"mark":{"type":"rule","color":"#ee7322","strokeWidth":2.2},"encoding":{"y":{"datum":1}}},
  {"data":{"name":"model"},"transform":[{"filter":"datum.p==4"}],"mark":{"type":"line","interpolate":"monotone","color":"#ee8a3a","strokeWidth":1.2},"encoding":{"x":{"field":"v","type":"quantitative"},"y":{"field":"hi","type":"quantitative"}}},
  {"data":{"name":"model"},"transform":[{"filter":"datum.p==4"}],"mark":{"type":"line","interpolate":"monotone","color":"#d8641e","strokeWidth":1.4},"encoding":{"x":{"field":"v","type":"quantitative"},"y":{"field":"md","type":"quantitative"}}},
  {"data":{"name":"model"},"transform":[{"filter":"datum.p==4"}],"mark":{"type":"line","interpolate":"monotone","color":"#f2501a","strokeWidth":1.8},"encoding":{"x":{"field":"v","type":"quantitative"},"y":{"field":"lo","type":"quantitative"}}},
  {"data":{"name":"res"},"transform":[{"filter":"datum.p==4"}],"mark":{"type":"line","interpolate":"step","color":"#5a5af0","strokeWidth":4.5},"encoding":{"x":{"field":"v","type":"quantitative"},"y":{"field":"r","type":"quantitative"},"detail":{"field":"s"}}},
  {"data":{"name":"res"},"transform":[{"filter":"datum.p==4"}],"mark":{"type":"line","interpolate":"step","color":"#cfd2ff","strokeWidth":1.8},"encoding":{"x":{"field":"v","type":"quantitative"},"y":{"field":"r","type":"quantitative"},"detail":{"field":"s"}}},
  {"data":{"name":"one"},"mark":{"type":"text","text":"+2σ","align":"right","baseline":"middle","fontSize":17.5,"color":"#2aa8a0"},"encoding":{"x":{"datum":208.3},"y":{"datum":1.62}}},
  {"data":{"name":"one"},"mark":{"type":"text","text":"−2σ","align":"right","baseline":"middle","fontSize":17.5,"color":"#2aa8a0"},"encoding":{"x":{"datum":208.3},"y":{"datum":1.43}}},
  {"data":{"name":"one"},"mark":{"type":"text","text":"HD W0-0R0","align":"left","baseline":"alphabetic","fontSize":22,"color":"#000"},"encoding":{"x":{"datum":54.6},"y":{"datum":0.258}}}
 ]}
]}
]
}
